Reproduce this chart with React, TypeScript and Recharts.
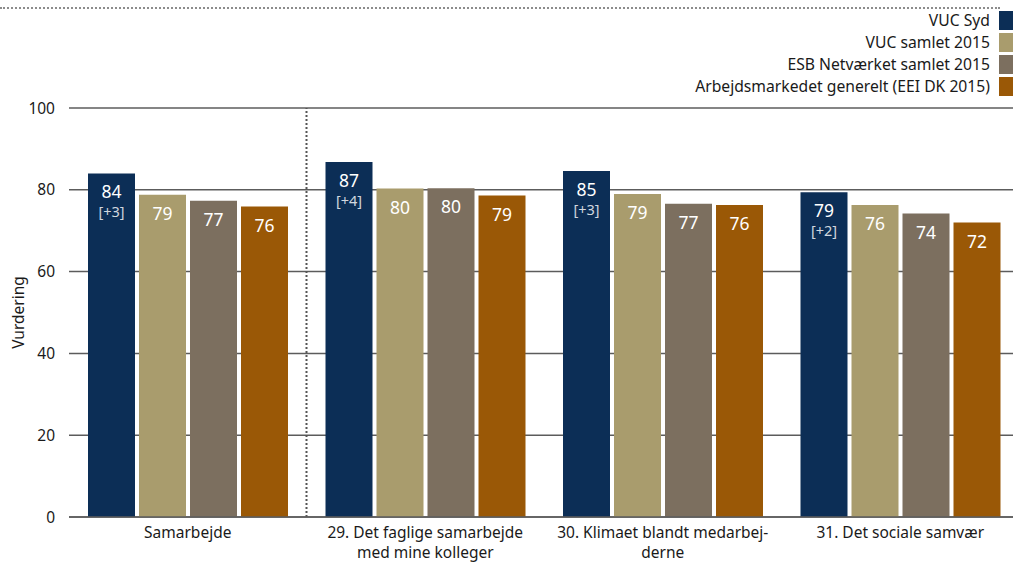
import React from 'react';
import { BarChart, Bar, XAxis, YAxis, CartesianGrid, ReferenceLine, LabelList, Legend } from 'recharts';

const categories = [
  'Samarbejde',
  '29. Det faglige samarbejde\nmed mine kolleger',
  '30. Klimaet blandt medarbej-\nderne',
  '31. Det sociale samvær',
];
const vucSyd = [84.0, 86.8, 84.6, 79.4];
const vucSamlet = [78.8, 80.3, 79.0, 76.3];
const esbNetvaerk = [77.3, 80.4, 76.6, 74.2];
const arbejdsmarked = [75.9, 78.6, 76.3, 72.0];
const vucSydDiff = ['+3', '+4', '+3', '+2'];
const yTicks = [0, 20, 40, 60, 80, 100];

const seriesNames = [
  'VUC Syd',
  'VUC samlet 2015',
  'ESB Netværket samlet 2015',
  'Arbejdsmarkedet generelt (EEI DK 2015)',
];
const seriesColors = ['#0c2e56', '#a99c6d', '#7c6f5f', '#9a5806'];

const data = categories.map((c, i) => ({
  category: c,
  vucSyd: vucSyd[i],
  vucSamlet: vucSamlet[i],
  esb: esbNetvaerk[i],
  arb: arbejdsmarked[i],
  diff: vucSydDiff[i],
}));

const FONT = '"Noto Sans", sans-serif';
const TEXT = '#1a1a1a';
const GRID = '#5c5c5c';

const XTick = (props: any) => {
  const { x, y, payload } = props;
  const lines = String(payload.value).split('\n');
  return (
    <text x={x} y={y} textAnchor="middle" fill={TEXT} fontSize={15.5} fontFamily={FONT}>
      {lines.map((l, i) => (
        <tspan key={i} x={x} dy={i === 0 ? 21 : 20}>
          {l}
        </tspan>
      ))}
    </text>
  );
};

const valueLabel = (props: any) => {
  const { x, y, width, value } = props;
  return (
    <text x={x + width / 2} y={y + 25} textAnchor="middle" fill="#ffffff" fontSize={17.5} fontFamily={FONT}>
      {Math.round(value)}
    </text>
  );
};

const sydLabel = (props: any) => {
  const { x, y, width, value, index } = props;
  return (
    <g>
      <text x={x + width / 2} y={y + 25} textAnchor="middle" fill="#ffffff" fontSize={17.5} fontFamily={FONT}>
        {Math.round(value)}
      </text>
      <text x={x + width / 2} y={y + 44} textAnchor="middle" fill="#ffffff" fillOpacity={0.82} fontSize={14.5} fontFamily={FONT}>
        {'[' + vucSydDiff[index] + ']'}
      </text>
    </g>
  );
};

const renderLegend = () => (
  <div style={{ display: 'flex', flexDirection: 'column', alignItems: 'flex-end', gap: 3 }}>
    {seriesNames.map((name, i) => (
      <div key={i} style={{ display: 'flex', alignItems: 'center', height: 19 }}>
        <span style={{ fontSize: 15.7, color: TEXT, fontFamily: FONT, lineHeight: '19px' }}>{name}</span>
        <span style={{ display: 'inline-block', width: 20, height: 19, background: seriesColors[i], marginLeft: 9 }} />
      </div>
    ))}
  </div>
);

const YLabel = (props: any) => {
  const { viewBox } = props;
  const cy = viewBox.y + viewBox.height / 2;
  return (
    <text x={18} y={cy} transform={`rotate(-90, 18, ${cy})`} textAnchor="middle" dominantBaseline="central" fill={TEXT} fontSize={15.5} fontFamily={FONT}>
      Vurdering
    </text>
  );
};

export default function App() {
  return (
    <div style={{ position: 'absolute', left: 0, top: 0, width: 1013, height: 563, overflow: 'hidden', background: '#fff' }}>
      <div style={{ position: 'absolute', left: 0, top: 7, width: 1000, borderTop: '2px dotted #8c8c8c' }} />
      <BarChart
        width={1019}
        height={563}
        data={data}
        margin={{ top: 108, right: 0, bottom: 0, left: 0 }}
        barSize={47}
        barGap={4}
      >
        <CartesianGrid vertical={false} stroke={GRID} strokeWidth={1.5} />
        <XAxis
          dataKey="category"
          height={46}
          tickLine={false}
          tickSize={0}
          tickMargin={0}
          axisLine={{ stroke: GRID, strokeWidth: 1.5 }}
          tick={<XTick />}
          interval={0}
        />
        <YAxis
          width={69}
          domain={[0, 100]}
          ticks={yTicks}
          tickLine={false}
          axisLine={false}
          tickSize={0}
          tickMargin={14}
          tick={{ fill: TEXT, fontSize: 15.5, fontFamily: FONT }}
          label={<YLabel />}
        />
        <ReferenceLine
          x={categories[0]}
          position="end"
          stroke="#555"
          strokeWidth={2}
          strokeDasharray="2 2"
          ifOverflow="visible"
        />
        <Legend
          verticalAlign="middle"
          align="center"
          layout="horizontal"
          wrapperStyle={{ top: 11, left: 0, width: 1019, height: 'auto' }}
          content={renderLegend}
        />
        <Bar dataKey="vucSyd" name={seriesNames[0]} fill={seriesColors[0]} isAnimationActive={false}>
          <LabelList dataKey="vucSyd" content={sydLabel} />
        </Bar>
        <Bar dataKey="vucSamlet" name={seriesNames[1]} fill={seriesColors[1]} isAnimationActive={false}>
          <LabelList dataKey="vucSamlet" content={valueLabel} />
        </Bar>
        <Bar dataKey="esb" name={seriesNames[2]} fill={seriesColors[2]} isAnimationActive={false}>
          <LabelList dataKey="esb" content={valueLabel} />
        </Bar>
        <Bar dataKey="arb" name={seriesNames[3]} fill={seriesColors[3]} isAnimationActive={false}>
          <LabelList dataKey="arb" content={valueLabel} />
        </Bar>
      </BarChart>
    </div>
  );
}
